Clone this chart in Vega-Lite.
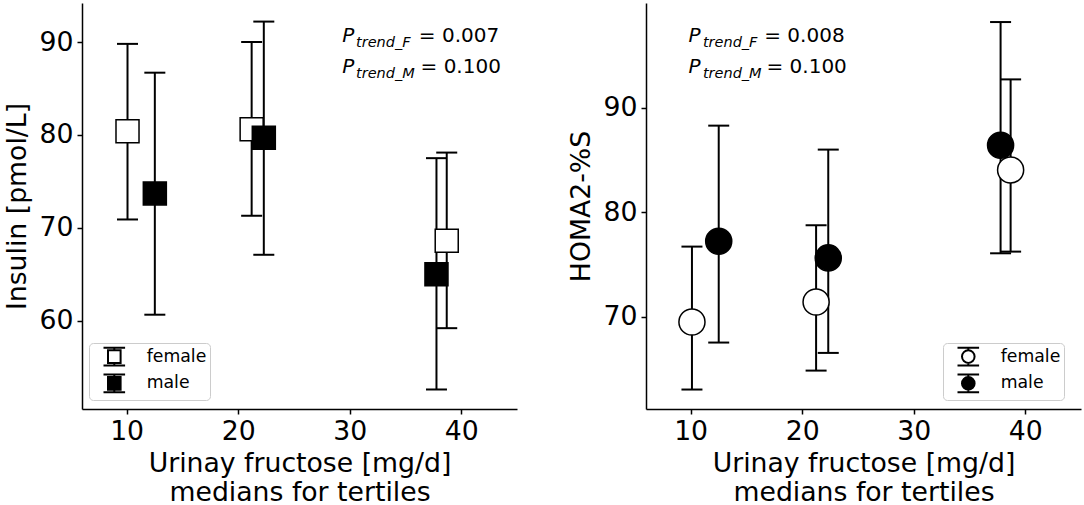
{
  "$schema": "https://vega.github.io/schema/vega-lite/v6.json",
  "padding": {"left": 4, "top": 3, "right": 2, "bottom": 0},
  "datasets": {
    "insulin": [
      {"sex": "female", "fructose": 10.08, "mean": 80.4, "lo": 70.9, "hi": 89.8},
      {"sex": "female", "fructose": 21.21, "mean": 80.6, "lo": 71.3, "hi": 90.0},
      {"sex": "female", "fructose": 38.7, "mean": 68.6, "lo": 59.2, "hi": 78.1},
      {"sex": "male", "fructose": 12.53, "mean": 73.7, "lo": 60.65, "hi": 86.7},
      {"sex": "male", "fructose": 22.3, "mean": 79.7, "lo": 67.1, "hi": 92.2},
      {"sex": "male", "fructose": 37.78, "mean": 65.0, "lo": 52.6, "hi": 77.5}
    ],
    "homa": [
      {"sex": "female", "fructose": 10.12, "mean": 69.52, "lo": 63.06, "hi": 76.72},
      {"sex": "female", "fructose": 21.25, "mean": 71.43, "lo": 64.87, "hi": 78.76},
      {"sex": "female", "fructose": 38.69, "mean": 84.04, "lo": 76.24, "hi": 92.7},
      {"sex": "male", "fructose": 12.52, "mean": 77.23, "lo": 67.55, "hi": 88.28},
      {"sex": "male", "fructose": 22.34, "mean": 75.64, "lo": 66.56, "hi": 85.99},
      {"sex": "male", "fructose": 37.79, "mean": 86.4, "lo": 76.08, "hi": 98.18}
    ],
    "notes": [
      {"panel": "insulin", "part": "P", "fructose": 29.34, "mean": 90.0, "text": "P"},
      {"panel": "insulin", "part": "P", "fructose": 29.34, "mean": 86.67, "text": "P"},
      {"panel": "insulin", "part": "sub", "fructose": 30.57, "mean": 90.0, "text": "trend_F"},
      {"panel": "insulin", "part": "sub", "fructose": 30.57, "mean": 86.67, "text": "trend_M"},
      {"panel": "insulin", "part": "val", "fructose": 36.2, "mean": 90.0, "text": "= 0.007"},
      {"panel": "insulin", "part": "val", "fructose": 36.35, "mean": 86.67, "text": "= 0.100"},
      {"panel": "homa", "part": "P", "fructose": 9.82, "mean": 96.27, "text": "P"},
      {"panel": "homa", "part": "P", "fructose": 9.82, "mean": 93.31, "text": "P"},
      {"panel": "homa", "part": "sub", "fructose": 11.1, "mean": 96.27, "text": "trend_F"},
      {"panel": "homa", "part": "sub", "fructose": 11.1, "mean": 93.31, "text": "trend_M"},
      {"panel": "homa", "part": "val", "fructose": 16.6, "mean": 96.27, "text": "= 0.008"},
      {"panel": "homa", "part": "val", "fructose": 16.8, "mean": 93.31, "text": "= 0.100"}
    ]
  },
  "spacing": 129,
  "bounds": "flush",
  "resolve": {"scale": {"fill": "independent", "x": "independent", "y": "independent"}, "legend": {"fill": "independent"}},
  "hconcat": [
    {
      "width": 435,
      "height": 406,
      "data": {"name": "insulin"},
      "layer": [
        {
          "mark": {"type": "rule", "strokeWidth": 2, "color": "black"},
          "encoding": {
            "x": {"field": "fructose", "type": "quantitative", "scale": {"domain": [6, 45], "nice": false, "zero": false}, "axis": {"values": [10, 20, 30, 40], "title": ["Urinay fructose [mg/d]", "medians for tertiles"]}},
            "y": {"field": "lo", "type": "quantitative", "scale": {"domain": [50.5, 94.2], "nice": false, "zero": false}, "axis": {"values": [60, 70, 80, 90], "title": "Insulin [pmol/L]"}},
            "y2": {"field": "hi"}
          }
        },
        {
          "mark": {"type": "tick", "orient": "horizontal", "size": 21, "thickness": 2, "color": "black", "opacity": 1},
          "encoding": {
            "x": {"field": "fructose", "type": "quantitative"},
            "y": {"field": "lo", "type": "quantitative"}
          }
        },
        {
          "mark": {"type": "tick", "orient": "horizontal", "size": 21, "thickness": 2, "color": "black", "opacity": 1},
          "encoding": {
            "x": {"field": "fructose", "type": "quantitative"},
            "y": {"field": "hi", "type": "quantitative"}
          }
        },
        {
          "mark": {"type": "point", "shape": "square", "size": 530, "filled": true, "stroke": "black", "strokeWidth": 1.5, "opacity": 1},
          "encoding": {
            "x": {"field": "fructose", "type": "quantitative"},
            "y": {"field": "mean", "type": "quantitative"},
            "fill": {
              "field": "sex", "type": "nominal",
              "scale": {"domain": ["female", "male"], "range": ["white", "black"]},
              "legend": {
                "orient": "none",
                "legendX": 7,
                "legendY": 340,
                "symbolType": "M-1.2,-0.98H1.2M0,-0.98V-0.7M-0.7,-0.7H0.7V0.7H-0.7ZM0,0.7V0.98M-1.2,0.98H1.2",
                "encode": {"legend": {"update": {"width": {"value": 127}}}}
              }
            }
          }
        },
        {
          "data": {"name": "notes"},
          "transform": [{"filter": "datum.panel == 'insulin' && datum.part == 'P'"}],
          "mark": {"type": "text", "align": "left", "baseline": "alphabetic", "fontSize": 20, "fontStyle": "italic", "color": "black"},
          "encoding": {
            "x": {"field": "fructose", "type": "quantitative"},
            "y": {"field": "mean", "type": "quantitative"},
            "text": {"field": "text"}
          }
        },
        {
          "data": {"name": "notes"},
          "transform": [{"filter": "datum.panel == 'insulin' && datum.part == 'sub'"}],
          "mark": {"type": "text", "align": "left", "baseline": "alphabetic", "fontSize": 14.5, "fontStyle": "italic", "dy": 5, "color": "black"},
          "encoding": {
            "x": {"field": "fructose", "type": "quantitative"},
            "y": {"field": "mean", "type": "quantitative"},
            "text": {"field": "text"}
          }
        },
        {
          "data": {"name": "notes"},
          "transform": [{"filter": "datum.panel == 'insulin' && datum.part == 'val'"}],
          "mark": {"type": "text", "align": "left", "baseline": "alphabetic", "fontSize": 20, "color": "black"},
          "encoding": {
            "x": {"field": "fructose", "type": "quantitative"},
            "y": {"field": "mean", "type": "quantitative"},
            "text": {"field": "text"}
          }
        }
      ]
    },
    {
      "width": 435,
      "height": 406,
      "data": {"name": "homa"},
      "layer": [
        {
          "mark": {"type": "rule", "strokeWidth": 2, "color": "black"},
          "encoding": {
            "x": {"field": "fructose", "type": "quantitative", "scale": {"domain": [6, 45], "nice": false, "zero": false}, "axis": {"values": [10, 20, 30, 40], "title": ["Urinay fructose [mg/d]", "medians for tertiles"]}},
            "y": {"field": "lo", "type": "quantitative", "scale": {"domain": [61.2, 100], "nice": false, "zero": false}, "axis": {"values": [70, 80, 90], "title": "HOMA2-%S"}},
            "y2": {"field": "hi"}
          }
        },
        {
          "mark": {"type": "tick", "orient": "horizontal", "size": 21, "thickness": 2, "color": "black", "opacity": 1},
          "encoding": {
            "x": {"field": "fructose", "type": "quantitative"},
            "y": {"field": "lo", "type": "quantitative"}
          }
        },
        {
          "mark": {"type": "tick", "orient": "horizontal", "size": 21, "thickness": 2, "color": "black", "opacity": 1},
          "encoding": {
            "x": {"field": "fructose", "type": "quantitative"},
            "y": {"field": "hi", "type": "quantitative"}
          }
        },
        {
          "mark": {"type": "point", "shape": "circle", "size": 680, "filled": true, "stroke": "black", "strokeWidth": 1.5, "opacity": 1},
          "encoding": {
            "x": {"field": "fructose", "type": "quantitative"},
            "y": {"field": "mean", "type": "quantitative"},
            "fill": {
              "field": "sex", "type": "nominal",
              "scale": {"domain": ["female", "male"], "range": ["white", "black"]},
              "legend": {
                "orient": "none",
                "legendX": 297,
                "legendY": 340,
                "symbolType": "M-1.2,-0.98H1.2M0,-0.98V-0.7M-0.7,0A0.7,0.7 0 1,0 0.7,0A0.7,0.7 0 1,0 -0.7,0ZM0,0.7V0.98M-1.2,0.98H1.2",
                "encode": {"legend": {"update": {"width": {"value": 127}}}}
              }
            }
          }
        },
        {
          "data": {"name": "notes"},
          "transform": [{"filter": "datum.panel == 'homa' && datum.part == 'P'"}],
          "mark": {"type": "text", "align": "left", "baseline": "alphabetic", "fontSize": 20, "fontStyle": "italic", "color": "black"},
          "encoding": {
            "x": {"field": "fructose", "type": "quantitative"},
            "y": {"field": "mean", "type": "quantitative"},
            "text": {"field": "text"}
          }
        },
        {
          "data": {"name": "notes"},
          "transform": [{"filter": "datum.panel == 'homa' && datum.part == 'sub'"}],
          "mark": {"type": "text", "align": "left", "baseline": "alphabetic", "fontSize": 14.5, "fontStyle": "italic", "dy": 5, "color": "black"},
          "encoding": {
            "x": {"field": "fructose", "type": "quantitative"},
            "y": {"field": "mean", "type": "quantitative"},
            "text": {"field": "text"}
          }
        },
        {
          "data": {"name": "notes"},
          "transform": [{"filter": "datum.panel == 'homa' && datum.part == 'val'"}],
          "mark": {"type": "text", "align": "left", "baseline": "alphabetic", "fontSize": 20, "color": "black"},
          "encoding": {
            "x": {"field": "fructose", "type": "quantitative"},
            "y": {"field": "mean", "type": "quantitative"},
            "text": {"field": "text"}
          }
        }
      ]
    }
  ],
  "config": {
    "view": {"stroke": null},
    "font": "DejaVu Sans",
    "text": {"font": "DejaVu Sans"},
    "axis": {
      "grid": false,
      "domainColor": "black",
      "domainWidth": 1.5,
      "tickColor": "black",
      "tickWidth": 1.5,
      "tickSize": 5,
      "labelFont": "DejaVu Sans",
      "labelFontSize": 26.7,
      "labelColor": "black",
      "labelPadding": 4,
      "titleFont": "DejaVu Sans",
      "titleFontSize": 26.7,
      "titleFontWeight": "normal",
      "titleColor": "black",
      "titlePadding": 8
    },
    "axisX": {"titleLineHeight": 28.5, "titlePadding": 6},
    "legend": {
      "title": null,
      "padding": 3.6,
      "strokeColor": "#cccccc",
      "fillColor": "white",
      "cornerRadius": 4,
      "labelFont": "DejaVu Sans",
      "labelFontSize": 17.3,
      "labelColor": "black",
      "symbolSize": 324,
      "symbolOffset": 11.7,
      "labelOffset": 22.4,
      "rowPadding": 0.8,
      "symbolStrokeColor": "black",
      "symbolStrokeWidth": 2,
      "symbolOpacity": 1
    }
  }
}
